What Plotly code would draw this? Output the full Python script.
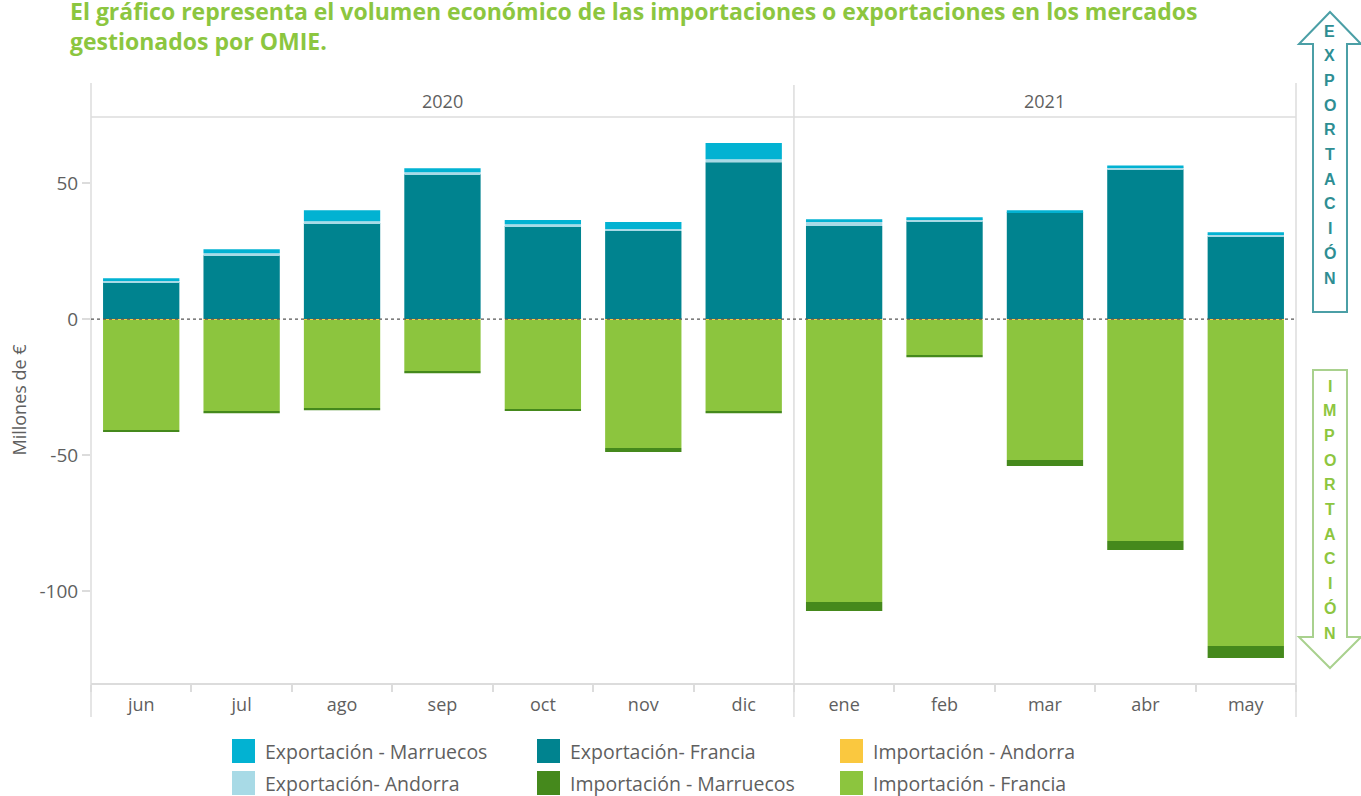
import plotly.graph_objects as go

# Monthly values in millions of euros (exports positive, imports negative)
months = ["jun", "jul", "ago", "sep", "oct", "nov", "dic", "ene", "feb", "mar", "abr", "may"]
years = ["2020", "2021"]
year_months = [7, 5]

exp_francia = [13.6, 23.5, 35.3, 53.3, 34.2, 32.4, 57.7, 34.2, 36.0, 39.3, 55.1, 30.5]
exp_andorra = [0.7, 0.7, 0.7, 0.7, 0.7, 0.7, 1.1, 1.8, 0.7, 0.0, 0.7, 0.7]
exp_marruecos = [0.7, 1.5, 4.0, 1.5, 1.5, 2.6, 5.9, 0.7, 0.7, 0.7, 0.7, 0.7]

imp_andorra = [-0.3] * 12
imp_francia = [-40.5, -33.5, -32.4, -18.8, -32.8, -47.1, -33.5, -103.7, -12.9, -51.5, -81.3, -119.9]
imp_marruecos = [-0.7, -0.8, -0.8, -0.8, -0.7, -1.5, -0.8, -3.3, -0.8, -2.2, -3.3, -4.4]

y_ticks = [-100, -50, 0, 50]
y_tick_text = ["-100", "-50", "0", "50"]

series = [
    ("Exportación- Francia", exp_francia, "#00838F"),
    ("Exportación- Andorra", exp_andorra, "#A8DAE6"),
    ("Exportación - Marruecos", exp_marruecos, "#02B2D2"),
    ("Importación - Andorra", imp_andorra, "#FAC83F"),
    ("Importación - Francia", imp_francia, "#8CC53E"),
    ("Importación - Marruecos", imp_marruecos, "#45891C"),
]

W, H = 1361, 796
L, R, T, B = 91, 1296, 117, 683
FONT = "Open Sans"
GREY = "#5f5f5f"
LINE = "#dcdcdc"


def px(x):
    return (x - L) / (R - L)


def py(y):
    return (B - y) / (B - T)


fig = go.Figure()
for name, vals, color in series:
    fig.add_trace(go.Bar(
        x=months, y=vals, name=name, marker=dict(color=color, line=dict(width=0)),
        showlegend=False,
    ))

shapes = []
annotations = []

# panel frame: borders, header rule and year divider
shapes.append(dict(type="line", xref="paper", yref="paper", x0=0, x1=0, y0=py(717), y1=py(83),
                   line=dict(color=LINE, width=1.5)))
shapes.append(dict(type="line", xref="paper", yref="paper", x0=1, x1=1, y0=py(717), y1=py(83),
                   line=dict(color=LINE, width=1.5)))
shapes.append(dict(type="line", xref="paper", yref="paper", x0=0, x1=1, y0=1, y1=1,
                   line=dict(color=LINE, width=1.5)))
shapes.append(dict(type="line", xref="x", yref="paper", x0=year_months[0] - 0.5, x1=year_months[0] - 0.5,
                   y0=py(717), y1=py(85), line=dict(color=LINE, width=1.5)))
# zero reference line
shapes.append(dict(type="line", xref="paper", yref="y", x0=0, x1=1, y0=0, y1=0,
                   line=dict(color="#555555", width=1.3, dash="dot"), layer="above"))

# year headers
start = 0
for yr, n in zip(years, year_months):
    annotations.append(dict(x=start + (n - 1) / 2, y=py(101), xref="x", yref="paper", text=yr,
                            xanchor="center", yanchor="middle",
                            showarrow=False, font=dict(family=FONT, size=18, color=GREY)))
    start += n

# title
title_font = dict(family=FONT, size=23, color="#8CC63F", weight="bold")
annotations.append(dict(x=px(68), y=py(11), xref="paper", yref="paper", xanchor="left", yanchor="middle",
                        text="El gráfico representa el volumen económico de las importaciones o exportaciones en los mercados",
                        showarrow=False, font=title_font))
annotations.append(dict(x=px(68), y=py(41), xref="paper", yref="paper", xanchor="left", yanchor="middle",
                        text="gestionados por OMIE.", showarrow=False, font=title_font))

# legend drawn as swatches with labels, three columns of two rows
legend_cols = [
    (232, ["Exportación - Marruecos", "Exportación- Andorra"]),
    (537, ["Exportación- Francia", "Importación - Marruecos"]),
    (840, ["Importación - Andorra", "Importación - Francia"]),
]
colors = {name: c for name, _, c in series}
for x0, names in legend_cols:
    for i, name in enumerate(names):
        yc = 751 + i * 32
        shapes.append(dict(type="rect", xref="paper", yref="paper", x0=px(x0), x1=px(x0 + 23),
                           y0=py(yc + 12), y1=py(yc - 12), fillcolor=colors[name], line=dict(width=0)))
        annotations.append(dict(x=px(x0 + 31), y=py(yc), xref="paper", yref="paper", xanchor="left",
                                yanchor="middle", text=name, showarrow=False,
                                font=dict(family=FONT, size=19.5, color=GREY)))


# direction arrows on the right side
def arrow_path(points):
    return "M " + " L ".join(f"{px(x):.5f},{py(y):.5f}" for x, y in points) + " Z"


up = [(1330, 12), (1361, 44), (1347, 44), (1347, 312), (1313, 312), (1313, 44), (1299, 44)]
down = [(1330, 668), (1361, 637), (1347, 637), (1347, 370), (1313, 370), (1313, 637), (1299, 637)]
shapes.append(dict(type="path", xref="paper", yref="paper", path=arrow_path(up),
                   line=dict(color="#4B9FA6", width=2), fillcolor="rgba(0,0,0,0)"))
shapes.append(dict(type="path", xref="paper", yref="paper", path=arrow_path(down),
                   line=dict(color="#A9D18E", width=2), fillcolor="rgba(0,0,0,0)"))
for word, y_first, color in [("EXPORTACIÓN", 31, "#2E8E93"), ("IMPORTACIÓN", 386, "#8DC63F")]:
    for k, ch in enumerate(word):
        annotations.append(dict(x=px(1330), y=py(y_first + k * 24.7), xref="paper", yref="paper",
                                text=ch, showarrow=False, xanchor="center", yanchor="middle",
                                font=dict(family="Liberation Sans", size=16, color=color, weight="bold")))

fig.update_layout(
    width=W, height=H,
    margin=dict(l=L, r=W - R, t=T, b=H - B),
    barmode="relative", bargap=0.24,
    plot_bgcolor="white", paper_bgcolor="white",
    font=dict(family=FONT, color=GREY),
    shapes=shapes, annotations=annotations,
    xaxis=dict(categoryorder="array", categoryarray=months, showline=True, linecolor=LINE, linewidth=1.5,
               ticks="outside", tickson="boundaries", ticklen=7, tickcolor=LINE, tickwidth=1.5,
               ticklabelstandoff=5,
               tickfont=dict(size=18, color=GREY), showgrid=False, zeroline=False, fixedrange=True),
    yaxis=dict(range=[-133.8, 74.3], tickvals=y_ticks, ticktext=y_tick_text, ticks="outside", ticklen=8,
               tickcolor=LINE, tickwidth=1.5, showgrid=False, zeroline=False, showline=False,
               tickfont=dict(size=19, color=GREY),
               title=dict(text="Millones de €", font=dict(size=18, color=GREY), standoff=8)),
)

fig.write_html("out.html")
